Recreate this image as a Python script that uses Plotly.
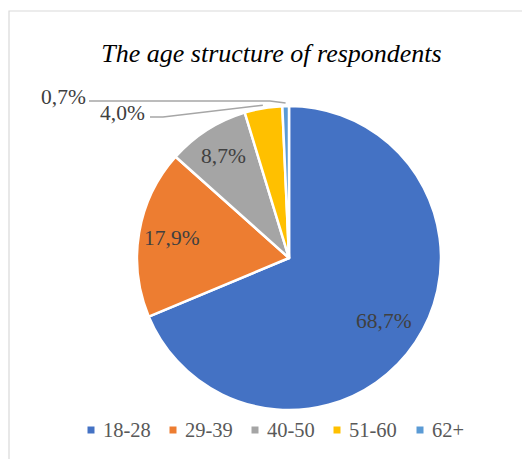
import math
import plotly.graph_objects as go

categories = ["18-28", "29-39", "40-50", "51-60", "62+"]
values = [68.7, 17.9, 8.7, 4.0, 0.7]
label_texts = ["68,7%", "17,9%", "8,7%", "4,0%", "0,7%"]
colors = ["#4472C4", "#ED7D31", "#A5A5A5", "#FFC000", "#5B9BD5"]

W, H = 530, 459
OFF = 8  # page body margin offset
CX, CY, R = 289.0, 258.0, 152.0
FONT = "'Liberation Serif', serif"


def px(x):
    return (x - OFF) / W


def py(y):
    return 1 - (y - OFF) / H


fig = go.Figure(go.Pie(
    labels=categories,
    values=values,
    sort=False,
    direction="clockwise",
    rotation=0,
    marker=dict(colors=colors, line=dict(color="white", width=2.5)),
    textinfo="none",
    hoverinfo="label+percent",
    showlegend=False,
    domain=dict(x=[px(CX - R), px(CX + R)], y=[py(CY + R), py(CY - R)]),
))

annotations = []
shapes = []

# frame
shapes.append(dict(type="rect", xref="paper", yref="paper",
                   x0=px(9), x1=px(W + 40), y0=py(H + 40), y1=py(11),
                   line=dict(color="#D9D9D9", width=1.2), fillcolor="rgba(0,0,0,0)",
                   layer="below"))

total = sum(values)
cum = 0.0
mids = []
for v in values:
    mids.append((cum + v / 2) / total * 2 * math.pi)
    cum += v


def pt(angle, r):
    return CX + r * math.sin(angle), CY - r * math.cos(angle)


# inside labels (radial fraction of the radius per slice)
inside_frac = [0.75, 0.78, 0.80]
for i in range(3):
    x, y = pt(mids[i], inside_frac[i] * R)
    annotations.append(dict(x=px(x), y=py(y), xref="paper", yref="paper",
                            text=label_texts[i], showarrow=False,
                            font=dict(family=FONT, size=21.5, color="#404040"),
                            xanchor="center", yanchor="middle"))

# outside labels with leader lines
outside = {3: (122, 113, 150, 163), 4: (63, 97, 89, 270)}
for i, (tx, ty, lx0, lx1) in outside.items():
    annotations.append(dict(x=px(tx), y=py(ty), xref="paper", yref="paper",
                            text=label_texts[i], showarrow=False,
                            font=dict(family=FONT, size=21.5, color="#404040"),
                            xanchor="center", yanchor="middle"))
    ex, ey = pt(mids[i], 1.02 * R)
    ly = ty + 4
    shapes.append(dict(type="path", xref="paper", yref="paper",
                       path=f"M {px(lx0)},{py(ly)} L {px(lx1)},{py(ly)} L {px(ex)},{py(ey)}",
                       line=dict(color="#A6A6A6", width=1.5)))

# legend
leg_y = 430
leg_x = [91, 173, 255, 337, 420]
for i, cat in enumerate(categories):
    mx = leg_x[i]
    shapes.append(dict(type="rect", xref="paper", yref="paper",
                       x0=px(mx - 3.5), x1=px(mx + 3.5), y0=py(leg_y + 3.5), y1=py(leg_y - 3.5),
                       fillcolor=colors[i], line=dict(width=0)))
    annotations.append(dict(x=px(mx + 10), y=py(leg_y), xref="paper", yref="paper",
                            text=cat, showarrow=False,
                            font=dict(family=FONT, size=20.5, color="#595959"),
                            xanchor="left", yanchor="middle"))

fig.update_layout(
    width=W, height=H,
    margin=dict(l=0, r=0, t=0, b=0),
    paper_bgcolor="white",
    plot_bgcolor="white",
    title=dict(text="<i>The age structure of respondents</i>",
               x=px(271.5), xanchor="center", y=py(53), yanchor="middle",
               font=dict(family=FONT, size=26, color="#000000")),
    annotations=annotations,
    shapes=shapes,
)

fig.write_html("out.html")
